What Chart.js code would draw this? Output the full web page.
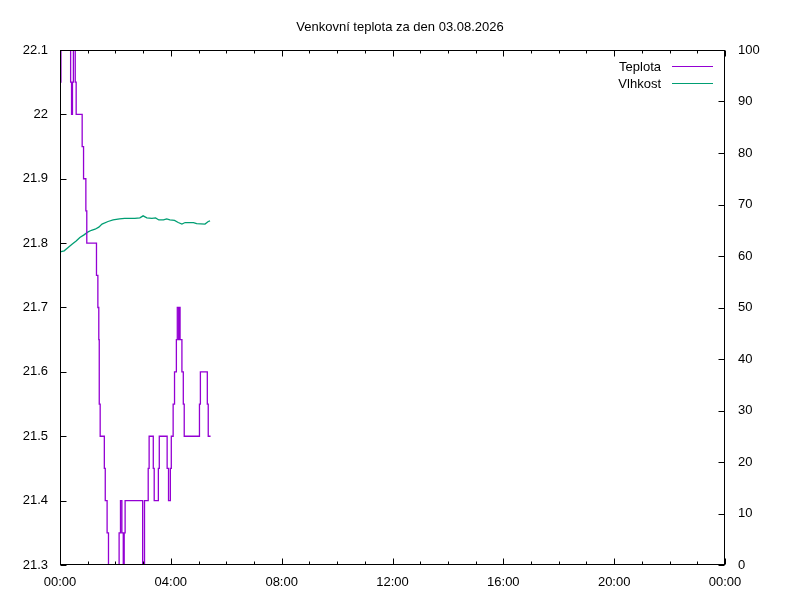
<!DOCTYPE html>
<html><head><meta charset="utf-8">
<script src="https://cdn.jsdelivr.net/npm/chart.js@4.4.1/dist/chart.umd.min.js"></script>
<style>html,body{margin:0;padding:0;background:#fff}#wrap{width:800px;height:600px}</style>
</head><body><div id="wrap"><canvas id="c" width="800" height="600"></canvas></div>
<script>
const chartTitle = 'Venkovní teplota za den 03.08.2026';
const seriesNames = ['Teplota', 'Vlhkost'];
const xTickLabels = ['00:00', '04:00', '08:00', '12:00', '16:00', '20:00', '00:00'];
// minutes since midnight
const tempMinutes = [0, 2, 23, 25, 27, 29, 33, 35, 48, 51, 56, 58, 79, 82, 84, 85, 87, 96, 98, 102, 105, 128, 131, 134, 137, 139, 141, 179, 183, 191, 193, 202, 204, 213, 215, 232, 235, 239, 241, 245, 248, 252, 254, 257, 258, 260, 264, 267, 269, 302, 304, 319, 321, 326];
const tempValues = [22.05, 22.15, 22.05, 22.0, 22.05, 22.15, 22.05, 22.0, 21.95, 21.9, 21.85, 21.8, 21.75, 21.7, 21.65, 21.55, 21.5, 21.45, 21.4, 21.35, 21.25, 21.35, 21.4, 21.35, 21.25, 21.35, 21.4, 21.25, 21.4, 21.45, 21.5, 21.45, 21.4, 21.45, 21.5, 21.45, 21.4, 21.45, 21.5, 21.55, 21.6, 21.65, 21.7, 21.65, 21.7, 21.65, 21.6, 21.55, 21.5, 21.55, 21.6, 21.55, 21.5, 21.5];
const humMinutes = [0, 9, 17, 26, 35, 43, 52, 61, 68, 76, 84, 91, 104, 115, 129, 140, 162, 173, 180, 188, 199, 207, 214, 224, 231, 238, 248, 256, 264, 271, 289, 296, 314, 321, 325];
const humValues = [60.8, 61.0, 61.6, 62.3, 62.9, 63.6, 64.1, 64.7, 65.0, 65.2, 65.6, 66.2, 66.7, 67.0, 67.2, 67.3, 67.3, 67.4, 67.8, 67.4, 67.3, 67.4, 67.0, 67.0, 67.2, 67.0, 66.9, 66.5, 66.2, 66.5, 66.5, 66.3, 66.2, 66.7, 66.8];

const colors = ['#9400d3', '#009e73'];
const FONT = '"Liberation Sans", Arial, sans-serif';

const frame = {
  id: 'frame',
  afterDatasetsDraw(chart) {
    const ctx = chart.ctx, a = chart.chartArea;
    const xs = chart.scales.x, ys = chart.scales.y, y2 = chart.scales.y2;
    ctx.save();
    ctx.strokeStyle = '#000';
    ctx.lineWidth = 1;
    const L = Math.round(a.left) + 0.5, R = Math.round(a.right) - 0.5;
    const T = Math.round(a.top) + 0.5, B = Math.round(a.bottom) - 0.5;
    ctx.beginPath();
    for (let h = 0; h <= 24; h++) {
      const px = Math.round(xs.getPixelForValue(h * 60)) + 0.5;
      const len = (h % 4 === 0) ? 6 : 3;
      ctx.moveTo(px, B); ctx.lineTo(px, B - len);
      ctx.moveTo(px, T); ctx.lineTo(px, T + len);
    }
    ys.ticks.forEach(t => {
      const py = Math.round(ys.getPixelForValue(t.value)) + 0.5;
      ctx.moveTo(L, py); ctx.lineTo(L + 6, py);
    });
    y2.ticks.forEach(t => {
      const py = Math.round(y2.getPixelForValue(t.value)) + 0.5;
      ctx.moveTo(R, py); ctx.lineTo(R - 6, py);
    });
    ctx.stroke();
    ctx.strokeRect(L, T, R - L, B - T);
    ctx.font = '13px ' + FONT;
    ctx.fillStyle = '#000';
    ctx.textAlign = 'right';
    ctx.textBaseline = 'middle';
    seriesNames.forEach((n, i) => {
      const y = 67 + i * 17;
      ctx.fillText(n, 661, y);
      ctx.strokeStyle = colors[i];
      ctx.beginPath();
      ctx.moveTo(672, y - 0.5); ctx.lineTo(713, y - 0.5);
      ctx.stroke();
    });
    ctx.restore();
  }
};

new Chart(document.getElementById('c'), {
  type: 'line',
  data: {
    datasets: [
      {
        label: seriesNames[0],
        data: tempMinutes.map((m, i) => ({x: m, y: tempValues[i]})),
        borderColor: colors[0], borderWidth: 1.3, pointRadius: 0,
        stepped: true, yAxisID: 'y', fill: false
      },
      {
        label: seriesNames[1],
        data: humMinutes.map((m, i) => ({x: m, y: humValues[i]})),
        borderColor: colors[1], borderWidth: 1.3, pointRadius: 0,
        tension: 0, yAxisID: 'y2', fill: false
      }
    ]
  },
  options: {
    responsive: false,
    animation: false,
    devicePixelRatio: 1,
    layout: {padding: 0},
    plugins: {
      legend: {display: false},
      tooltip: {enabled: false},
      title: {
        display: true, text: chartTitle, color: '#000',
        font: {family: FONT, size: 13, weight: 'normal'},
        padding: {top: 20, bottom: 14.4}
      }
    },
    scales: {
      x: {
        type: 'linear', min: 0, max: 1440,
        grid: {display: false, drawTicks: false}, border: {display: false},
        ticks: {stepSize: 240, autoSkip: false, maxRotation: 0, padding: 10, color: '#000',
          font: {family: FONT, size: 13},
          callback: (v, i) => xTickLabels[i]},
        afterFit: s => { s.height = 35; }
      },
      y: {
        position: 'left', min: 21.3, max: 22.1,
        grid: {display: false, drawTicks: false}, border: {display: false},
        ticks: {stepSize: 0.1, padding: 12, color: '#000', font: {family: FONT, size: 13},
          callback: v => String(Math.round(v * 10) / 10)},
        afterFit: s => { s.width = 60; }
      },
      y2: {
        position: 'right', min: 0, max: 100,
        grid: {display: false, drawTicks: false}, border: {display: false},
        ticks: {stepSize: 10, padding: 13, color: '#000', font: {family: FONT, size: 13}},
        afterFit: s => { s.width = 75; }
      }
    }
  },
  plugins: [frame]
});
</script>
</body></html>
